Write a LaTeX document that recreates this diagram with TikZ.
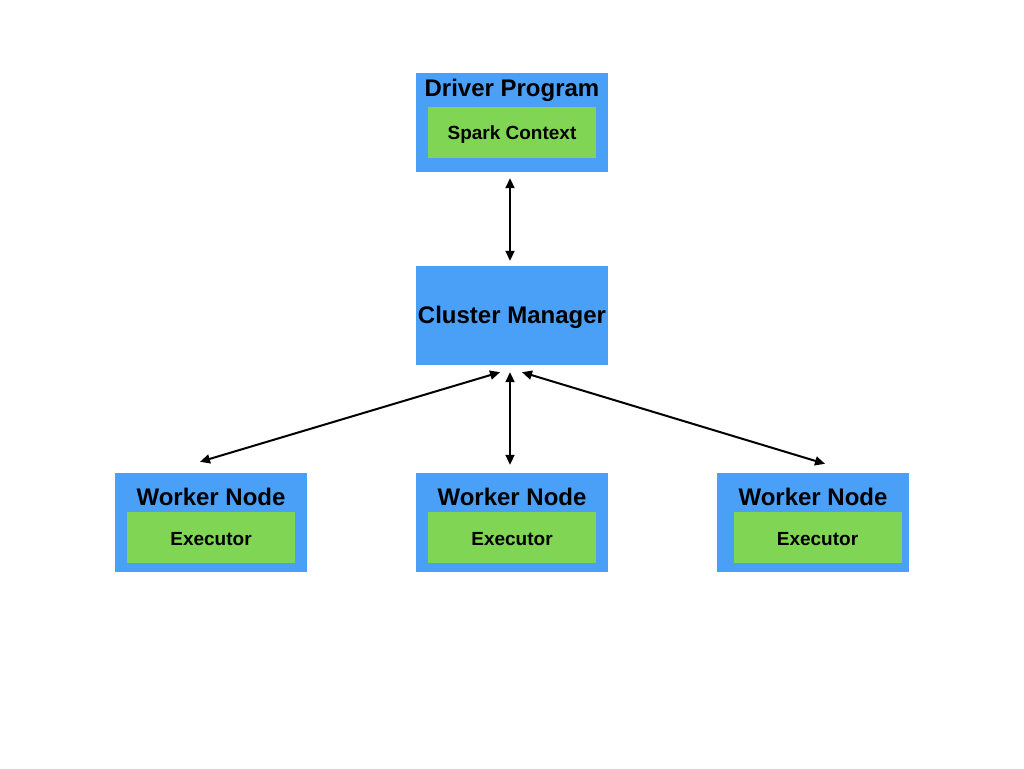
\documentclass[tikz,border=0pt]{standalone}
\usepackage{fontspec}
\setmainfont{Liberation Sans}
\usetikzlibrary{arrows.meta}
\definecolor{boxblue}{RGB}{74,160,247}
\definecolor{boxgreen}{RGB}{128,214,84}
\tikzset{
  outer/.style={fill=boxblue, draw=none, minimum width=192pt, minimum height=99pt, inner sep=0pt},
  inner/.style={fill=boxgreen, draw=none, minimum width=168pt, minimum height=51pt, inner sep=0pt, font=\fontsize{19}{20}\selectfont\bfseries},
  title/.style={inner sep=0pt, font=\fontsize{24}{26}\selectfont\bfseries},
  arr/.style={line width=2pt, {Triangle[length=10pt,width=9pt]}-{Triangle[length=10pt,width=9pt]}}
}
\begin{document}
\begin{tikzpicture}[x=1pt,y=-1pt]
\useasboundingbox[fill=white] (0,0) rectangle (1024,768);
% Driver
\node[outer] (driver) at (512,122.5) {};
\node[title] (drivert) at (512,90) {Driver Program};
\node[inner] (spark) at (512,132.5) {};
\node[inner, fill=none] (sparkt) at (512,134.5) {Spark Context};
% Cluster manager
\node[outer] (cm) at (512,315.5) {};
\node[title] (cmt) at (512,317.5) {Cluster Manager};
% Workers
\node[outer] (w1) at (211,522.5) {};
\node[title] (w1t) at (211,497) {Worker Node};
\node[inner] (e1) at (211,537.5) {};
\node[inner, fill=none] (e1t) at (211,539.5) {Executor};
\node[outer] (w2) at (512,522.5) {};
\node[title] (w2t) at (512,497) {Worker Node};
\node[inner] (e2) at (512,537.5) {};
\node[inner, fill=none] (e2t) at (512,539.5) {Executor};
\node[outer] (w3) at (813,522.5) {};
\node[title] (w3t) at (813,497) {Worker Node};
\node[inner] (e3) at (817.5,537.5) {};
\node[inner, fill=none] (e3t) at (817.5,539.5) {Executor};
% Arrows
\draw[arr] ([xshift=-2pt,yshift=-6pt]driver.south) -- ([xshift=-2pt,yshift=5pt]cm.north);
\draw[arr] ([xshift=-12pt,yshift=-7pt]cm.south) -- ([xshift=-11pt,yshift=11pt]w1.north);
\draw[arr] ([xshift=-2pt,yshift=-7pt]cm.south) -- ([xshift=-2pt,yshift=8pt]w2.north);
\draw[arr] ([xshift=10pt,yshift=-7pt]cm.south) -- ([xshift=12pt,yshift=9pt]w3.north);
\end{tikzpicture}
\end{document}
